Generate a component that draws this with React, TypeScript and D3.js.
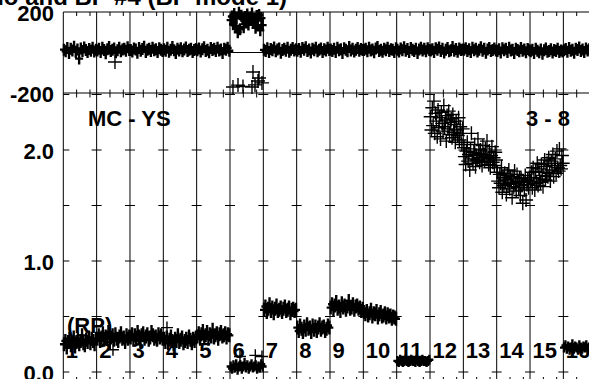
import React from "react";
import * as d3 from "d3";

const W = 589;
const H = 379;

// ---- labels / ticks ----
const segmentLabels = ["1", "2", "3", "4", "5", "6", "7", "8", "9", "10", "11", "12", "13", "14", "15", "16"];
const topTickValues = [200, -200];
const topTickLabels = ["200", "-200"];
const bottomTickValues = [0, 0.5, 1.0, 1.5, 2.0, 2.5];
const bottomLabelValues = [0, 1.0, 2.0];
const bottomLabelTexts = ["0.0", "1.0", "2.0"];
const minorTickOffsets = [0.4, 0.8];
const titleText = "Ratio and BP #4 (BP mode 1)";

// ---- top panel (BP) values per segment ----
const bp01 = [14, 6, 22, -2, 18, 10, 28, 4, 15, -30, 20, 8, 25, 12, 2, 17, 9, 24, 5, 13];
const bp02 = [10, 18, 3, 24, 12, -4, 16, 27, 8, 14, 20, 1, 11, 23, 6, 15, 19, 9, 26, 12];
const bp03 = [12, 5, 20, 15, -1, 22, 9, 17, 28, 3, 13, 19, 7, 24, 11, 16, 2, 21, 14, 8];
const bp04 = [16, 9, 23, 4, 13, 27, 11, -2, 18, 10, 21, 6, 15, 25, 8, 14, 19, 3, 12, 17];
const bp05 = [11, 20, 5, 16, 26, 8, 14, 1, 22, 12, 18, 7, 24, 10, 15, -3, 19, 13, 23, 9];
const bp06 = [160, 178, 140, 190, 132, 170, 100, 196, 115, 182, 165, 125, 175, 150, 188, 138, 172, 160, 192, 147, 168, 122, 180, 158, 185, 110, 170, 135];
const bp07 = [13, 7, 21, 2, 17, 11, 25, 6, 15, 20, -1, 12, 18, 9, 24, 4, 14, 22, 10, 16];
const bp08 = [9, 17, 4, 22, 13, 26, 7, 15, 0, 19, 11, 23, 6, 14, 20, 3, 16, 10, 24, 12];
const bp09 = [15, 8, 19, 3, 24, 11, 16, -2, 21, 13, 6, 27, 10, 18, 5, 14, 22, 9, 17, 12];
const bp10 = [12, 18, 6, 23, 10, 15, 1, 20, 27, 8, 14, 4, 19, 11, 24, 7, 16, 13, 2, 21];
const bp11 = [14, 5, 20, 11, 26, 9, 17, 2, 22, 13, 7, 19, -3, 15, 24, 10, 18, 6, 21, 12];
const bp12 = [10, 16, 3, 21, 13, 25, 8, 18, 0, 14, 22, 6, 11, 27, 9, 17, 4, 20, 12, 15];
const bp13 = [13, 21, 7, 16, 2, 24, 11, 18, 5, 14, 26, 9, 19, -1, 15, 22, 8, 12, 20, 10];
const bp14 = [8, 16, 0, 21, 11, 18, 3, 24, 10, 14, -3, 19, 12, 6, 22, 9, 15, 1, 17, 11];
const bp15 = [6, 13, -2, 18, 9, 1, 15, -6, 11, 20, 4, 8, 16, 0, 12, 7, 19, 3, 10, 5];
const bp16 = [11, 17, 4, 22, 9, 14, -1, 19, 12, 25, 7, 15, 3, 20, 10, 16, 6, 23, 13, 8];
const bpBySegment = [bp01, bp02, bp03, bp04, bp05, bp06, bp07, bp08, bp09, bp10, bp11, bp12, bp13, bp14, bp15, bp16];

const bpOutlierSegment = [2, 6, 6, 6, 6, 6, 6, 6, 6, 6];
const bpOutlierOffset = [0.55, 0.09, 0.24, 0.39, 0.66, 0.69, 0.75, 0.84, 0.87, 0.96];
const bpOutlierValue = [-47, -170, -161, -168, -170, -96, -160, -141, -126, -150];
const bpZeroLineSegment = 6;

// ---- bottom panel (ratio) values per segment ----
const ratio01 = [0.25, 0.28, 0.22, 0.27, 0.30, 0.24, 0.26, 0.31, 0.23, 0.27, 0.29, 0.25, 0.28, 0.33, 0.26, 0.24, 0.29, 0.27, 0.31, 0.26, 0.30, 0.28, 0.25, 0.30];
const ratio02 = [0.30, 0.33, 0.28, 0.31, 0.35, 0.29, 0.32, 0.30, 0.36, 0.27, 0.31, 0.33, 0.29, 0.34, 0.30, 0.28, 0.32, 0.35, 0.30, 0.31, 0.27, 0.33, 0.30, 0.32];
const ratio03 = [0.31, 0.34, 0.29, 0.33, 0.30, 0.36, 0.32, 0.28, 0.33, 0.35, 0.30, 0.32, 0.34, 0.29, 0.31, 0.36, 0.33, 0.30, 0.32, 0.29, 0.34, 0.31, 0.33, 0.30];
const ratio04 = [0.30, 0.27, 0.31, 0.26, 0.29, 0.32, 0.28, 0.25, 0.30, 0.28, 0.33, 0.27, 0.29, 0.31, 0.26, 0.28, 0.30, 0.27, 0.32, 0.29, 0.26, 0.30, 0.28, 0.31];
const ratio05 = [0.32, 0.35, 0.30, 0.34, 0.37, 0.31, 0.33, 0.36, 0.30, 0.34, 0.32, 0.38, 0.31, 0.33, 0.35, 0.30, 0.34, 0.36, 0.32, 0.33, 0.35, 0.31, 0.34, 0.33];
const ratio06 = [0.05, 0.03, 0.06, 0.04, 0.07, 0.02, 0.05, 0.06, 0.03, 0.05, 0.08, 0.04, 0.06, 0.03, 0.05, 0.07, 0.04, 0.05, 0.06, 0.03, 0.05, 0.04, 0.07, 0.05];
const ratio07 = [0.56, 0.59, 0.54, 0.57, 0.61, 0.55, 0.58, 0.53, 0.57, 0.60, 0.55, 0.56, 0.58, 0.54, 0.57, 0.59, 0.55, 0.56, 0.58, 0.53, 0.56, 0.57, 0.55, 0.56];
const ratio08 = [0.40, 0.37, 0.42, 0.39, 0.36, 0.41, 0.38, 0.43, 0.39, 0.40, 0.36, 0.42, 0.38, 0.41, 0.37, 0.40, 0.43, 0.38, 0.40, 0.41, 0.37, 0.39, 0.42, 0.40];
const ratio09 = [0.58, 0.61, 0.56, 0.60, 0.63, 0.57, 0.59, 0.55, 0.62, 0.58, 0.60, 0.56, 0.59, 0.64, 0.57, 0.58, 0.61, 0.56, 0.59, 0.60, 0.57, 0.58, 0.55, 0.57];
const ratio10 = [0.54, 0.52, 0.55, 0.51, 0.53, 0.56, 0.50, 0.53, 0.52, 0.55, 0.49, 0.52, 0.54, 0.50, 0.51, 0.53, 0.49, 0.52, 0.50, 0.51, 0.48, 0.50, 0.49, 0.48];
const ratio11 = [0.10, 0.09, 0.11, 0.10, 0.09, 0.10, 0.11, 0.10, 0.09, 0.10, 0.11, 0.10, 0.10, 0.09, 0.11, 0.10, 0.09, 0.10, 0.11, 0.10, 0.10, 0.09, 0.10, 0.11];
const ratio12 = [2.30, 2.18, 2.38, 2.22, 2.44, 2.15, 2.33, 2.26, 2.12, 2.36, 2.20, 2.29, 2.10, 2.34, 2.24, 2.17, 2.40, 2.21, 2.27, 2.08, 2.31, 2.19, 2.35, 2.14, 2.25, 2.28, 2.11, 2.32, 2.16, 2.23, 2.07, 2.26, 2.18, 2.13, 2.29, 2.09, 2.21, 2.15, 2.05, 2.19];
const ratio13 = [2.02, 1.94, 1.87, 1.99, 2.07, 1.90, 1.96, 1.82, 2.01, 2.15, 1.92, 1.88, 1.98, 2.05, 1.85, 1.95, 1.91, 2.10, 1.97, 1.89, 2.00, 1.93, 1.86, 2.04, 1.96, 1.90, 2.01, 1.94, 2.08, 1.92, 1.87, 1.99, 1.84, 1.95, 2.03, 1.89, 1.93, 1.86, 1.98, 1.91];
const ratio14 = [1.80, 1.72, 1.66, 1.78, 1.70, 1.84, 1.62, 1.75, 1.68, 1.79, 1.73, 1.60, 1.77, 1.69, 1.82, 1.65, 1.74, 1.71, 1.57, 1.76, 1.67, 1.81, 1.70, 1.63, 1.78, 1.72, 1.66, 1.75, 1.59, 1.74, 1.68, 1.52, 1.71, 1.64, 1.77, 1.55, 1.69, 1.73, 1.66, 1.75];
const ratio15 = [1.72, 1.80, 1.66, 1.84, 1.75, 1.64, 1.81, 1.70, 1.88, 1.68, 1.83, 1.74, 1.71, 1.87, 1.77, 1.67, 1.85, 1.91, 1.73, 1.80, 1.88, 1.76, 1.93, 1.79, 1.72, 1.90, 1.82, 1.96, 1.76, 1.86, 1.92, 1.79, 1.99, 1.84, 1.81, 2.01, 1.86, 1.83, 1.95, 1.88];
const ratio16 = [0.22, 0.24, 0.21, 0.23, 0.20, 0.22, 0.25, 0.21, 0.23, 0.22, 0.20, 0.24, 0.22, 0.21, 0.23, 0.22, 0.24, 0.21, 0.22, 0.23, 0.20, 0.22, 0.24, 0.21];
const ratioBySegment = [ratio01, ratio02, ratio03, ratio04, ratio05, ratio06, ratio07, ratio08, ratio09, ratio10, ratio11, ratio12, ratio13, ratio14, ratio15, ratio16];
const bigCrossSegments = [12, 13, 14, 15];
const compactSegments = [6, 11, 16];

const ratioOutlierSegment = [2, 4, 6, 6, 6];
const ratioOutlierOffset = [0.49, 0.11, 0.30, 0.76, 0.96];
const ratioOutlierValue = [0.20, 0.40, 0.14, 0.15, 0.14];

// ---- scales ----
const x = d3.scaleLinear().domain([0, 16]).range([63.3, 596.7]);
const yTop = d3.scaleLinear().domain([-200, 200]).range([93, 12]);
const yBot = d3.scaleLinear().domain([0, 2.5]).range([372, 94.5]);

const FRAME_TOP = 12;
const FRAME_BOTTOM = 381.5;
const FONT = "'Liberation Sans', Arial, Helvetica, sans-serif";

function cross(cx: number, cy: number, ah: number, av: number) {
  return `M${cx - ah},${cy}H${cx + ah}M${cx},${cy - av}V${cy + av}`;
}

function segPositions(seg: number, n: number) {
  return d3.range(n).map((j) => seg - 1 + 0.02 + (0.96 * j) / (n - 1));
}

export default function App() {
  const dense: string[] = [];
  const big: string[] = [];
  bpBySegment.forEach((vals, i) => {
    const seg = i + 1;
    const pos = segPositions(seg, vals.length);
    vals.forEach((v, j) => dense.push(cross(x(pos[j]), yTop(v), 4, 6)));
  });
  bpOutlierValue.forEach((v, k) => {
    big.push(cross(x(bpOutlierSegment[k] - 1 + bpOutlierOffset[k]), yTop(v), 7, 7));
  });
  ratioBySegment.forEach((vals, i) => {
    const seg = i + 1;
    const isBig = bigCrossSegments.includes(seg);
    const av = compactSegments.includes(seg) ? 5 : 7;
    const pos = segPositions(seg, vals.length);
    vals.forEach((v, j) =>
      isBig ? big.push(cross(x(pos[j]), yBot(v), 7, 7)) : dense.push(cross(x(pos[j]), yBot(v), 4, av))
    );
  });
  ratioOutlierValue.forEach((v, k) => {
    big.push(cross(x(ratioOutlierSegment[k] - 1 + ratioOutlierOffset[k]), yBot(v), 6, 6));
  });

  const boundaries = d3.range(1, 16);
  const minorTicks: number[] = [];
  d3.range(0, 16).forEach((i) => minorTickOffsets.forEach((f) => minorTicks.push(i + f)));

  return (
    <svg
      width={W}
      height={H}
      style={{ position: "absolute", left: 0, top: 0, background: "#fff" }}
      fontFamily={FONT}
      fontWeight="bold"
    >
      <rect x={0} y={0} width={W} height={H} fill="#fff" />
      <text x={287} y={5} textAnchor="end" fontSize={24}>
        {titleText}
      </text>

      {/* frame */}
      <line x1={x(0)} x2={x(16)} y1={FRAME_TOP} y2={FRAME_TOP} stroke="#000" />
      <line x1={x(0)} x2={x(16)} y1={93} y2={93} stroke="#000" />
      <line x1={x(0)} x2={x(16)} y1={FRAME_BOTTOM} y2={FRAME_BOTTOM} stroke="#000" />
      <line x1={x(0)} x2={x(0)} y1={FRAME_TOP} y2={FRAME_BOTTOM} stroke="#000" />
      {boundaries.map((b) => (
        <line key={"b" + b} x1={x(b)} x2={x(b)} y1={FRAME_TOP} y2={FRAME_BOTTOM} stroke="#000" />
      ))}

      {/* minor x ticks */}
      {minorTicks.map((t) => (
        <g key={"m" + t} stroke="#000">
          <line x1={x(t)} x2={x(t)} y1={FRAME_TOP} y2={FRAME_TOP + 4} />
          <line x1={x(t)} x2={x(t)} y1={89.5} y2={97.5} />
          <line x1={x(t)} x2={x(t)} y1={FRAME_BOTTOM - 4.5} y2={FRAME_BOTTOM} />
        </g>
      ))}

      {/* bottom panel y ticks on every grid line */}
      {bottomTickValues.map((v) => (
        <g key={"yt" + v} stroke="#000">
          <line x1={x(0)} x2={x(0) + 6} y1={yBot(v)} y2={yBot(v)} />
          {boundaries.map((b) => (
            <line key={b} x1={x(b) - 5} x2={x(b) + 5} y1={yBot(v)} y2={yBot(v)} />
          ))}
        </g>
      ))}

      {/* seg 6 zero line in top panel */}
      <line
        x1={x(bpZeroLineSegment - 1)}
        x2={x(bpZeroLineSegment)}
        y1={yTop(0)}
        y2={yTop(0)}
        stroke="#000"
      />

      {/* axis labels */}
      {topTickValues.map((v, i) => (
        <text key={"tl" + v} x={54} y={yTop(v) + 9} textAnchor="end" fontSize={22}>
          {topTickLabels[i]}
        </text>
      ))}
      {bottomLabelValues.map((v, i) => (
        <text key={"bl" + v} x={54} y={yBot(v) + 9} textAnchor="end" fontSize={22}>
          {bottomLabelTexts[i]}
        </text>
      ))}

      {/* annotations */}
      <text x={88} y={126} fontSize={22}>MC - YS</text>
      <text x={526} y={126} fontSize={22}>3 - 8</text>
      <text x={67} y={333} fontSize={22}>(RP)</text>
      {segmentLabels.map((s, i) => (
        <text key={"s" + s} x={x(i) + 2.5} y={358} fontSize={22}>
          {s}
        </text>
      ))}

      {/* data */}
      <path d={dense.join("")} stroke="#000" strokeWidth={2.4} fill="none" />
      <path d={big.join("")} stroke="#000" strokeWidth={1.4} fill="none" />
    </svg>
  );
}
